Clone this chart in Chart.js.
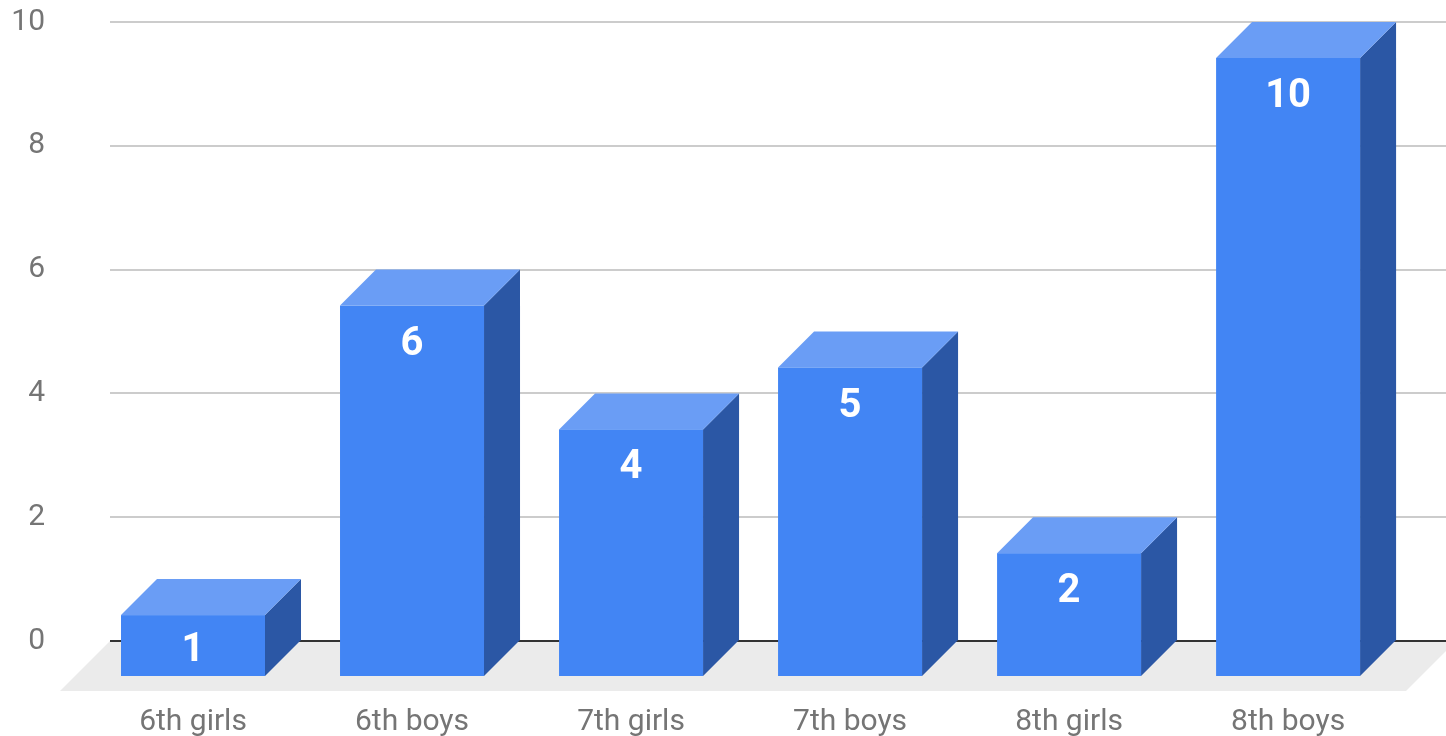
<!DOCTYPE html>
<html>
  <head>
    <meta charset="UTF-8">
    <title>Students by grade</title>
    <script src="https://cdn.jsdelivr.net/npm/chart.js"></script>
    <style>
      html, body { margin: 0; padding: 0; background: #fff; }
      #wrap { width: 1446px; height: 736px; position: relative; }
    </style>
  </head>
  <body>
    <div id="wrap">
      <canvas id="myChart"></canvas>
    </div>

    <script>
      // chart data
      const categories = ['6th girls', '6th boys', '7th girls', '7th boys', '8th girls', '8th boys'];
      const counts = [1, 6, 4, 5, 2, 10];
      const yTicks = [0, 2, 4, 6, 8, 10];

      // box look
      const DEPTH = 36;
      const FLOOR = 50;
      const FRONT = '#4285f4';
      const TOP = '#6a9df5';
      const SIDE = '#2b57a5';

      // grey floor under the boxes
      const floorPlugin = {
        id: 'floor',
        beforeDraw(chart) {
          const { ctx, chartArea } = chart;
          const y0 = chart.scales.y.getPixelForValue(0);
          ctx.save();
          ctx.fillStyle = '#ebebeb';
          ctx.beginPath();
          ctx.moveTo(chartArea.left, y0);
          ctx.lineTo(chartArea.right + 10, y0);
          ctx.lineTo(chartArea.right + 10 - FLOOR, y0 + FLOOR);
          ctx.lineTo(chartArea.left - FLOOR, y0 + FLOOR);
          ctx.closePath();
          ctx.fill();
          ctx.restore();
        }
      };

      // each bar becomes a box: front face, top and right side
      const boxPlugin = {
        id: 'boxes',
        afterDatasetsDraw(chart) {
          const { ctx } = chart;
          const meta = chart.getDatasetMeta(0);
          ctx.save();
          meta.data.forEach((bar, i) => {
            const { x, y, base, width } = bar.getProps(['x', 'y', 'base', 'width'], true);
            const l = x - width / 2, r = x + width / 2;
            const top = y + DEPTH, bottom = base + DEPTH;

            ctx.fillStyle = SIDE;
            ctx.beginPath();
            ctx.moveTo(r, top);
            ctx.lineTo(r + DEPTH, y);
            ctx.lineTo(r + DEPTH, base);
            ctx.lineTo(r, bottom);
            ctx.closePath();
            ctx.fill();

            ctx.fillStyle = TOP;
            ctx.beginPath();
            ctx.moveTo(l, top);
            ctx.lineTo(r, top);
            ctx.lineTo(r + DEPTH, y);
            ctx.lineTo(l + DEPTH, y);
            ctx.closePath();
            ctx.fill();

            ctx.fillStyle = FRONT;
            ctx.fillRect(l, top, width, bottom - top);

            // value label inside the front face
            ctx.fillStyle = '#ffffff';
            ctx.font = 'bold 40px Roboto';
            ctx.textAlign = 'center';
            ctx.textBaseline = 'middle';
            const ly = Math.min(top + 34, (top + bottom) / 2) + 5;
            ctx.fillText(String(counts[i]), x, ly);
          });
          ctx.restore();
        }
      };

      const ctx = document.getElementById('myChart').getContext('2d');
      const chart = new Chart(ctx, {
        type: 'bar',
        data: {
          datasets: [{
            data: counts.map((v, i) => ({ x: i, y: v })),
            backgroundColor: 'rgba(0,0,0,0)',
            borderWidth: 0,
            barThickness: 144
          }]
        },
        options: {
          responsive: true,
          maintainAspectRatio: false,
          animation: false,
          layout: { padding: { top: 22, left: 0, right: 0, bottom: 0 } },
          plugins: {
            legend: { display: false },
            tooltip: { enabled: false }
          },
          scales: {
            x: {
              type: 'linear',
              min: -0.379,
              max: 5.721,
              offset: false,
              grid: { display: false, drawTicks: false },
              border: { display: false },
              afterBuildTicks: s => { s.ticks = categories.map((c, i) => ({ value: i })); },
              afterFit: s => { s.height = 95; s.paddingLeft = 0; s.paddingRight = 0; },
              ticks: {
                autoSkip: false,
                maxRotation: 0,
                padding: 63,
                color: '#757575',
                font: { family: 'Roboto', size: 30 },
                callback: v => categories[v]
              }
            },
            y: {
              min: 0,
              max: 10,
              afterBuildTicks: s => { s.ticks = yTicks.map(v => ({ value: v })); },
              afterFit: s => { s.width = 110; s.paddingTop = 0; s.paddingBottom = 0; },
              grid: {
                drawTicks: false,
                lineWidth: 2,
                color: c => (c.tick && c.tick.value === 0 ? '#333333' : '#cccccc')
              },
              border: { display: false },
              ticks: {
                padding: 65,
                color: '#757575',
                font: { family: 'Roboto', size: 30 }
              }
            }
          }
        },
        plugins: [floorPlugin, boxPlugin]
      });
    </script>
  </body>
</html>
